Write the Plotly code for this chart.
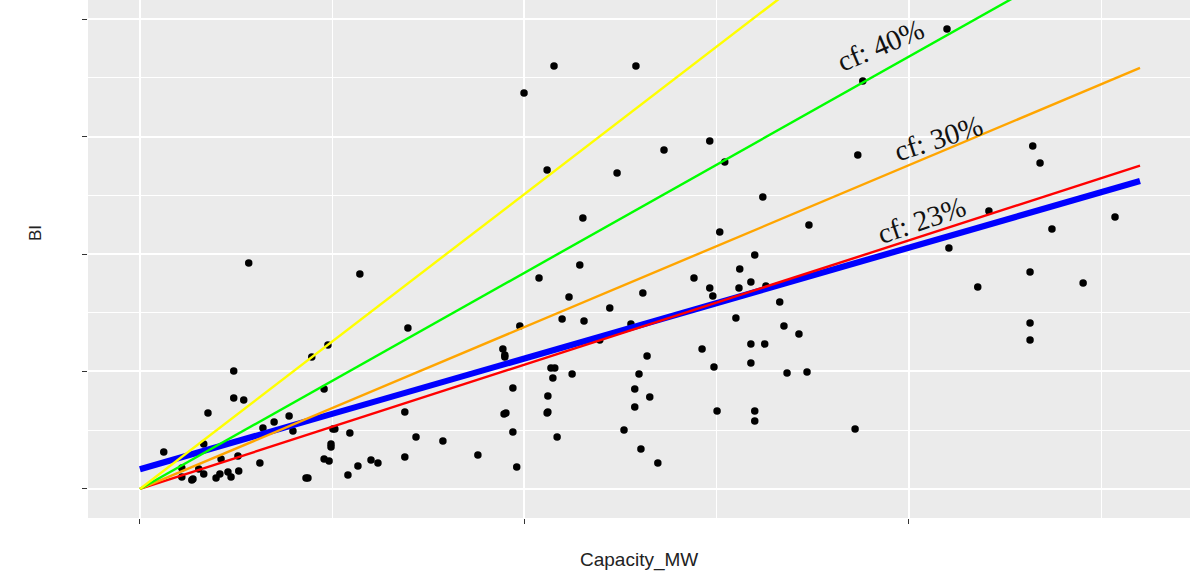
import plotly.graph_objects as go

# ---- data (x = Capacity_MW, y = BI) ----
capacity_mw = [
    6.2, 10.9, 10.9, 13.5, 13.8, 15.3, 16.6, 16.6, 17.7, 19.8,
    20.8, 21.1, 22.9, 23.7, 24.4, 24.4, 27.0, 25.5, 25.7, 28.3,
    31.2, 32.0, 34.9, 38.8, 39.8, 43.2, 43.7, 44.7, 48.9, 47.9,
    50.2, 50.7, 49.7, 49.7, 47.9, 49.2, 54.6, 54.1, 56.7, 57.2,
    60.1, 61.9, 68.9, 68.9, 69.7, 71.8, 78.8, 87.9,
    94.4, 94.9, 94.9, 94.7, 95.2, 97.0, 97.0, 98.0, 98.8, 99.9,
    103.8, 105.9, 105.9, 106.1, 106.1, 106.9, 107.9, 107.4, 107.7, 108.5,
    109.8, 111.6, 112.4, 114.4, 115.2, 115.5, 119.6, 122.2, 124.1, 125.9,
    127.7, 128.7, 128.7, 129.0, 129.8, 130.3, 130.8, 131.9, 132.6, 134.7,
    136.3, 144.1, 146.2, 148.2, 148.2, 149.0, 149.3, 150.1, 150.8, 152.1,
    155.0, 155.8, 156.0, 158.9, 158.9, 158.9, 159.9, 159.9, 159.9, 162.0,
    162.5, 162.8, 166.4, 167.5, 168.3, 171.4, 173.5, 174.0, 186.0, 186.7,
    188.0, 209.9, 210.4, 217.9, 220.8, 231.5, 231.5, 231.5, 232.2, 234.1,
    237.2, 245.3, 253.6,
]
bi = [
    31.5, 17.9, 10.2, 7.7, 8.5, 17.0, 12.8, 38.3, 64.7, 9.4,
    12.8, 25.5, 14.5, 10.2, 100.4, 77.4, 75.7, 28.1, 15.3, 192.3,
    22.1, 51.9, 57.0, 62.1, 49.4, 9.4, 9.4, 112.3, 122.6, 85.1,
    51.1, 51.1, 38.3, 35.7, 25.5, 23.8, 47.7, 11.9, 19.6, 183.0,
    24.7, 22.1, 65.5, 27.2, 137.0, 44.3, 40.9, 28.9,
    119.1, 114.0, 112.3, 63.8, 64.7, 86.0, 48.5, 18.7, 138.7, 337.0,
    179.6, 271.5, 64.7, 65.5, 79.1, 103.0, 103.0, 94.5, 360.0, 44.3,
    144.7, 163.4, 97.9, 190.6, 230.6, 143.0, 126.8, 154.0, 268.9, 50.2,
    140.4, 85.1, 69.8, 360.0, 97.9, 34.0, 166.8, 113.2, 78.3, 22.1,
    288.5, 179.6, 119.1, 296.2, 171.1, 164.3, 103.8, 66.4, 218.7, 278.3,
    145.5, 171.1, 187.2, 176.2, 123.4, 107.2, 199.1, 66.4, 57.9, 248.5,
    123.4, 172.8, 159.1, 138.7, 98.7, 131.9, 99.6, 224.7, 51.1, 284.3,
    347.2, 391.5, 205.1, 171.9, 236.6, 184.7, 141.3, 126.8, 292.0, 277.4,
    221.3, 175.3, 231.5,
]

# reference lines through the origin (BI per MW) and the fitted trend
line_x = [0.0, 260.1]
cf_labels = ["cf: 55%", "cf: 40%", "cf: 30%", "cf: 23%"]
cf_slopes = [2.51, 1.84, 1.378, 1.058]
cf_colors = ["#FFFF00", "#00FF00", "#FFA500", "#FF0000"]
fit_intercept = 16.8
fit_slope = 0.943

# text labels (x, y, angle)
label_text = ["cf: 40%", "cf: 30%", "cf: 23%"]
label_x = [192.7, 207.7, 203.3]
label_y = [377.9, 298.5, 228.9]
label_angle = [-23, -18, -19]

x_ticks = [0, 100, 200]
y_ticks = [0, 100, 200, 300, 400]

fig = go.Figure()

fig.add_trace(go.Scatter(
    x=capacity_mw, y=bi, mode="markers",
    marker=dict(color="black", size=7.5, line=dict(width=0)),
    showlegend=False, hoverinfo="skip",
))

fig.add_trace(go.Scatter(
    x=line_x, y=[fit_intercept + fit_slope * v for v in line_x],
    mode="lines", line=dict(color="#0000FF", width=6.2),
    showlegend=False, hoverinfo="skip",
))

for s, c in zip(reversed(cf_slopes), reversed(cf_colors)):
    fig.add_trace(go.Scatter(
        x=line_x, y=[s * v for v in line_x], mode="lines",
        line=dict(color=c, width=2.4),
        showlegend=False, hoverinfo="skip",
    ))

for t, lx, ly, a in zip(label_text, label_x, label_y, label_angle):
    fig.add_annotation(
        x=lx, y=ly, text=t, textangle=a, showarrow=False,
        xanchor="center", yanchor="middle",
        font=dict(family="Liberation Serif", size=29, color="#111111"),
    )

PLOT_W = 1193 - 88 - 3
PLOT_H = 585 - 0 - 67

fig.add_annotation(
    x=(35 - 88) / PLOT_W, y=1 - (233 / PLOT_H), xref="paper", yref="paper",
    text="BI", textangle=-90, showarrow=False,
    xanchor="center", yanchor="middle",
    font=dict(family="Liberation Sans", size=17, color="#222222"),
)
fig.add_annotation(
    x=(639 - 88) / PLOT_W, y=-(560 - PLOT_H) / PLOT_H, xref="paper", yref="paper",
    text="Capacity_MW", showarrow=False,
    xanchor="center", yanchor="middle",
    font=dict(family="Liberation Sans", size=19, color="#222222"),
)

fig.update_layout(
    width=1193, height=585,
    margin=dict(l=88, r=3, t=0, b=67, autoexpand=False),
    paper_bgcolor="white", plot_bgcolor="#EBEBEB",
    showlegend=False,
)

fig.update_xaxes(
    range=[-13.5, 273.1], tickvals=x_ticks, showticklabels=False,
    ticks="outside", ticklen=5, tickwidth=1.2, tickcolor="#333333",
    showgrid=True, gridcolor="white", gridwidth=1.6,
    minor=dict(dtick=50, tick0=50, showgrid=True, gridcolor="white", gridwidth=0.8, ticks=""),
    zeroline=False, showline=False, automargin=False,
)
fig.update_yaxes(
    range=[-24.7, 416.2], tickvals=y_ticks, showticklabels=False,
    ticks="outside", ticklen=5, tickwidth=1.2, tickcolor="#333333",
    showgrid=True, gridcolor="white", gridwidth=1.6,
    minor=dict(dtick=50, tick0=50, showgrid=True, gridcolor="white", gridwidth=0.8, ticks=""),
    zeroline=False, showline=False, automargin=False,
)

fig.write_html(
    "out.html",
    config={"displayModeBar": False},
    post_script="document.body.style.margin='0';document.body.style.overflow='hidden';",
)
